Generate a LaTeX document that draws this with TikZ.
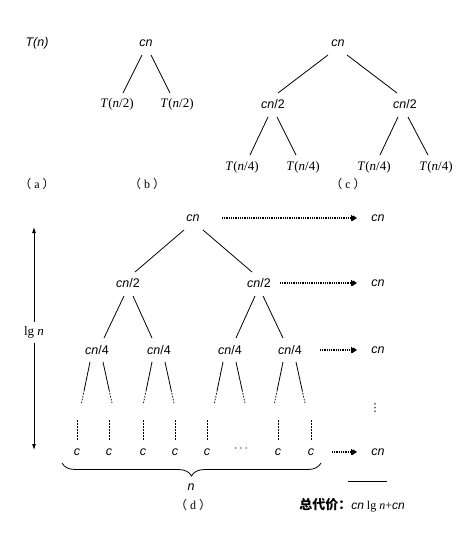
\documentclass[tikz,border=0pt]{standalone}
\usepackage{fontspec}
\setmainfont{Liberation Serif}
\setsansfont{Liberation Sans}
\newfontfamily\cjk{Noto Sans CJK SC}
\newfontfamily\dejavu{DejaVu Sans}
\usetikzlibrary{arrows.meta,decorations.pathreplacing}

\tikzset{
  sv/.style={font=\sffamily\itshape\fontsize{12.5}{14}\selectfont, inner sep=0pt},
  rm/.style={font=\fontsize{13}{14}\selectfont, inner sep=0pt},
  lbl/.style={font=\fontsize{12}{14}\selectfont, inner sep=0pt},
  edge/.style={line width=0.8pt},
  stub/.style={line width=0.8pt, dash pattern=on 1.6pt off 1.4pt},
  sumarrow/.style={line width=1.3pt, dash pattern=on 1pt off 0.8pt,
    -{Bar[width=6pt,line width=0.9pt] Bar[width=5pt,line width=0.9pt] Triangle[length=4pt,width=5pt]}},
  axis/.style={line width=0.8pt, -{Latex[length=6pt,width=4pt]}}
}
% caption letter in wide parentheses
\newcommand\sublabel[1]{{\cjk （}\hspace{3pt}#1\hspace{3pt}{\cjk ）}}
% tree edge: parent, child, x offset at parent, x offset at child
\newcommand\tedge[4]{\draw[edge] ([shift={(#3,12)}]#1.center) -- ([shift={(#4,-11)}]#2.center);}
% edge that fades out below a node
\newcommand\fedge[3]{%
  \draw[edge] ([shift={(#2,12)}]#1.center) -- ++(#3*0.68,28) coordinate (tmp);
  \draw[stub] (tmp) -- ++(#3*0.32,13);}

\begin{document}
\begin{tikzpicture}[x=1pt,y=-1pt]
\useasboundingbox (0,0) rectangle (474,533);

% (a)
\node[sv] (ta) at (37,43) {T(n)};
\node[lbl] (la) at (37,184) {\sublabel{a}};

% (b)
\node[sv] (b0) at (146,43) {cn};
\node[rm] (b1) at (117,104) {\textit{T}(\textit{n}/2)};
\node[rm] (b2) at (177,104) {\textit{T}(\textit{n}/2)};
\tedge{b0}{b1}{-4}{6}
\tedge{b0}{b2}{5}{-7}
\node[lbl] (lb) at (147,184) {\sublabel{b}};

% (c)
\node[sv] (c0) at (338,43) {cn};
\node[sv] (c1) at (273,104) {cn{\upshape/2}};
\node[sv] (c2) at (405,104) {cn{\upshape/2}};
\node[rm] (c11) at (242,167) {\textit{T}(\textit{n}/4)};
\node[rm] (c12) at (303,167) {\textit{T}(\textit{n}/4)};
\node[rm] (c21) at (374,167) {\textit{T}(\textit{n}/4)};
\node[rm] (c22) at (436,167) {\textit{T}(\textit{n}/4)};
\tedge{c0}{c1}{-10}{5}
\tedge{c0}{c2}{9}{-8}
\draw[edge] ([shift={(-5,13)}]c1.center) -- ([shift={(8,-12)}]c11.center);
\draw[edge] ([shift={(4,13)}]c1.center) -- ([shift={(-7,-12)}]c12.center);
\draw[edge] ([shift={(-7,13)}]c2.center) -- ([shift={(6,-12)}]c21.center);
\draw[edge] ([shift={(3,13)}]c2.center) -- ([shift={(-8,-12)}]c22.center);
\node[lbl] (lc) at (348,184) {\sublabel{c}};

% (d) recursion tree
\node[sv] (d0) at (193,218) {cn};
\node[sv] (d1) at (128,283) {cn{\upshape/2}};
\node[sv] (d2) at (259,283) {cn{\upshape/2}};
\node[sv] (d11) at (97,350) {cn{\upshape/4}};
\node[sv] (d12) at (159,350) {cn{\upshape/4}};
\node[sv] (d21) at (230,350) {cn{\upshape/4}};
\node[sv] (d22) at (290,350) {cn{\upshape/4}};
\tedge{d0}{d1}{-9}{7}
\tedge{d0}{d2}{10}{-7}
\draw[edge] ([shift={(-4,13)}]d1.center) -- ([shift={(7,-12)}]d11.center);
\draw[edge] ([shift={(5,13)}]d1.center) -- ([shift={(-7,-12)}]d12.center);
\draw[edge] ([shift={(-4,13)}]d2.center) -- ([shift={(6,-12)}]d21.center);
\draw[edge] ([shift={(4,13)}]d2.center) -- ([shift={(-7,-12)}]d22.center);
\foreach \n in {d11,d12,d21,d22}{
  \fedge{\n}{-7}{-8.5}
  \fedge{\n}{6}{9}
}

% leaves
\foreach \x/\i in {77/1,109/2,143/3,175/4,207/5,278/7,311/8}{
  \node[sv] (l\i) at (\x,452) {c};
  \draw[stub] ([shift={(0,-12)}]l\i.center) -- ++(0,-20);
}
\node[sv] (l6) at (241,449) {\upshape$\cdots$};

\draw[decorate, decoration={brace, mirror, amplitude=13pt}, line width=0.8pt]
  (62,463) -- (321,463);
\node[sv] (nn) at (191,487) {n};
\node[lbl] (ld) at (193,505) {\sublabel{d}};

% per-level costs
\node[sv] (r0) at (378,218) {cn};
\node[sv] (r1) at (378,283) {cn};
\node[sv] (r2) at (378,350) {cn};
\node[font=\dejavu\fontsize{11}{12}\selectfont, inner sep=0pt] (rv) at (375,408) {⋮};
\node[sv] (r3) at (378,452) {cn};
\draw[sumarrow] ([xshift=29]d0.center) -- ([xshift=-21]r0.center);
\draw[sumarrow] ([xshift=21]d2.center) -- ([xshift=-21]r1.center);
\draw[sumarrow] ([xshift=30]d22.center) -- ([xshift=-21]r2.center);
\draw[sumarrow] ([xshift=21]l8.center) -- ([xshift=-21]r3.center);
\coordinate (s1) at (348,481);
\coordinate (s2) at (387,481);
\draw[line width=0.8pt] (s1) -- (s2);
\node[lbl] (tot) at (352,505)
  {{\cjk\bfseries\fontsize{13}{14}\selectfont 总代价：}{\sffamily\itshape cn} lg \textit{n}+{\sffamily\itshape cn}};

% height of the tree
\node[rm] (lg) at (34,332) {lg \textit{n}};
\coordinate (ax1) at (34,227);
\coordinate (ax2) at (34,450);
\draw[axis] ([shift={(0,-10)}]lg.center) -- (ax1);
\draw[axis] ([shift={(0,11)}]lg.center) -- (ax2);
\end{tikzpicture}
\end{document}
